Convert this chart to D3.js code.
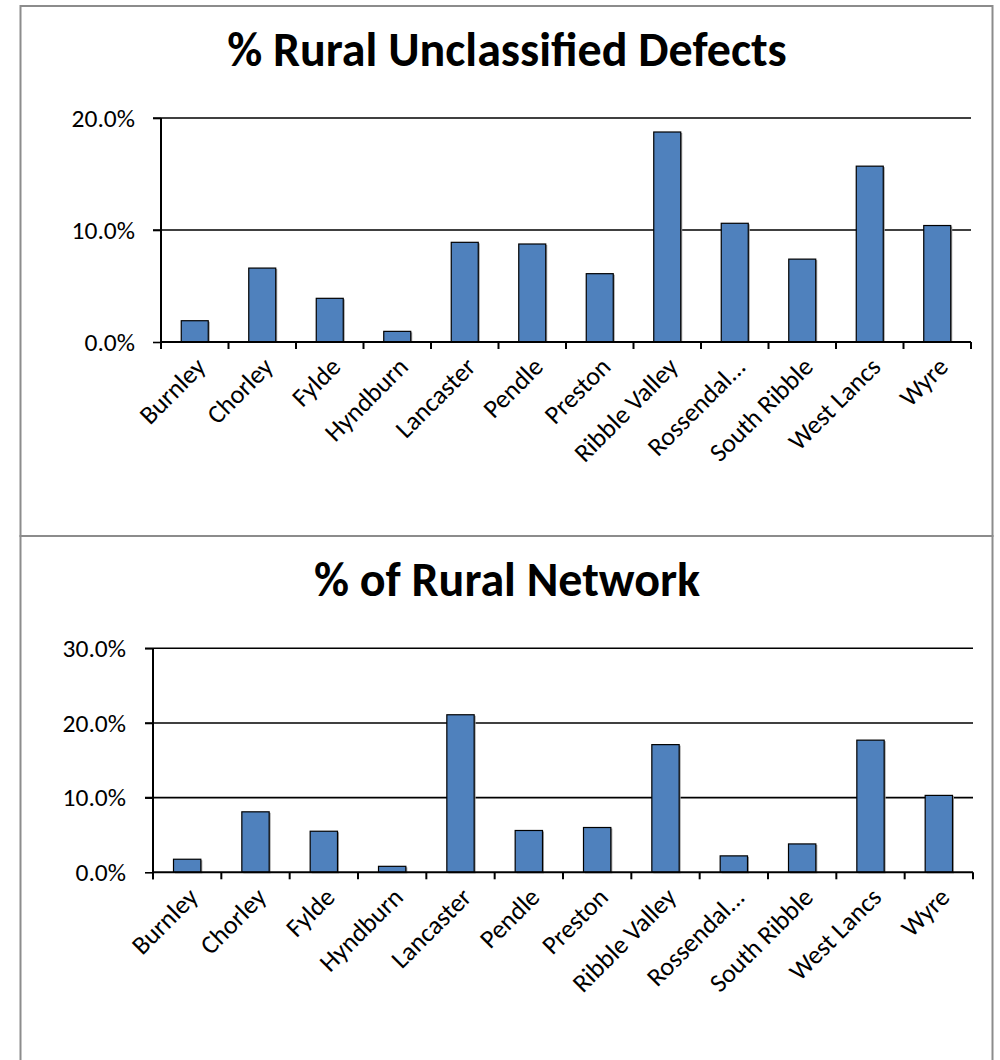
<!DOCTYPE html>
<html><head><meta charset="utf-8">
<script src="https://cdn.jsdelivr.net/npm/d3@7"></script>
<style>
body{margin:0;background:#fff;}
svg text{font-family:"Carlito","Open Sans",sans-serif;fill:#000;}
</style></head><body>
<svg id="chart" width="1000" height="1060"></svg>
<script>
const categories = ["Burnley","Chorley","Fylde","Hyndburn","Lancaster","Pendle","Preston","Ribble Valley","Rossendal...","South Ribble","West Lancs","Wyre"];
const defectsValues = [0.019,0.066,0.039,0.0095,0.089,0.0875,0.061,0.1875,0.106,0.074,0.157,0.104];
const networkValues = [0.0175,0.081,0.055,0.008,0.211,0.056,0.060,0.171,0.022,0.038,0.177,0.103];
const defectsTicks = [0,0.1,0.2];
const networkTicks = [0,0.1,0.2,0.3];
const titles = ["% Rural Unclassified Defects","% of Rural Network"];

const svg = d3.select("#chart");
// panel borders
svg.append("rect").attr("x",20.5).attr("y",6).attr("width",972).attr("height",530)
  .attr("fill","none").attr("stroke","#8c8c8c").attr("stroke-width",2);
svg.append("rect").attr("x",20.5).attr("y",536).attr("width",972).attr("height",540)
  .attr("fill","none").attr("stroke","#8c8c8c").attr("stroke-width",2);

const fmt = d3.format(".1%");

function panel(cfg){
  const g = svg.append("g");
  g.append("text").attr("x",cfg.titleX).attr("y",cfg.titleY).attr("text-anchor","middle")
    .attr("font-size",48).attr("font-weight","bold").text(cfg.title);
  const x = d3.scaleBand().domain(categories).range([cfg.x0,cfg.x1]).paddingInner(0.6).paddingOuter(0.3);
  const xb = d3.scaleBand().domain(categories).range([cfg.x0,cfg.x1]);
  const y = d3.scaleLinear().domain([0,cfg.max]).range([cfg.y0,cfg.yTop]);
  // gridlines
  g.append("g").selectAll("line").data(cfg.ticks.slice(1)).join("line")
    .attr("x1",cfg.x0-8).attr("x2",cfg.x1).attr("y1",d=>y(d)).attr("y2",d=>y(d))
    .attr("stroke","#000").attr("stroke-width",1.6);
  // y axis
  const ya = g.append("g").attr("transform",`translate(${cfg.x0},0)`)
    .call(d3.axisLeft(y).tickValues(cfg.ticks).tickFormat(fmt).tickSize(8).tickPadding(cfg.pad));
  ya.select(".domain").remove();
  ya.selectAll(".tick line").attr("stroke","#000").attr("stroke-width",1.6);
  ya.selectAll("text").attr("font-size",25.5).attr("font-family",null);
  g.append("line").attr("x1",cfg.x0).attr("x2",cfg.x0).attr("y1",cfg.yTop).attr("y2",cfg.y0+7)
    .attr("stroke","#000").attr("stroke-width",2);
  // bars: shadow + bar
  g.append("g").selectAll("rect").data(cfg.values).join("rect")
    .attr("x",(d,i)=>x(categories[i])+1.5).attr("y",d=>y(d)+1)
    .attr("width",x.bandwidth()).attr("height",d=>cfg.y0-y(d))
    .attr("fill","#a0a0a0");
  g.append("g").selectAll("rect").data(cfg.values).join("rect")
    .attr("x",(d,i)=>x(categories[i])).attr("y",d=>y(d))
    .attr("width",x.bandwidth()).attr("height",d=>cfg.y0-y(d))
    .attr("fill","#4f81bd").attr("stroke","#000").attr("stroke-width",1.2);
  // x axis
  g.append("line").attr("x1",cfg.x0).attr("x2",cfg.x1).attr("y1",cfg.y0).attr("y2",cfg.y0)
    .attr("stroke","#000").attr("stroke-width",2);
  const edges = categories.map(c=>xb(c)).concat([cfg.x1]);
  g.append("g").selectAll("line").data(edges).join("line")
    .attr("x1",d=>d).attr("x2",d=>d).attr("y1",cfg.y0).attr("y2",cfg.y0+7)
    .attr("stroke","#000").attr("stroke-width",2);
  g.append("g").selectAll("text").data(categories).join("text")
    .attr("transform",c=>`translate(${xb(c)+xb.bandwidth()/2+6},${cfg.y0+20}) rotate(-45)`)
    .attr("text-anchor","end").attr("dy","0.35em").attr("font-size",26).text(c=>c);
}

panel({title:titles[0],titleX:507,titleY:66,x0:161,x1:971,y0:342,yTop:118,max:0.2,ticks:defectsTicks,values:defectsValues,pad:18});
panel({title:titles[1],titleX:507,titleY:596,x0:153,x1:973,y0:872.3,yTop:648.3,max:0.3,ticks:networkTicks,values:networkValues,pad:19});
</script></body></html>
